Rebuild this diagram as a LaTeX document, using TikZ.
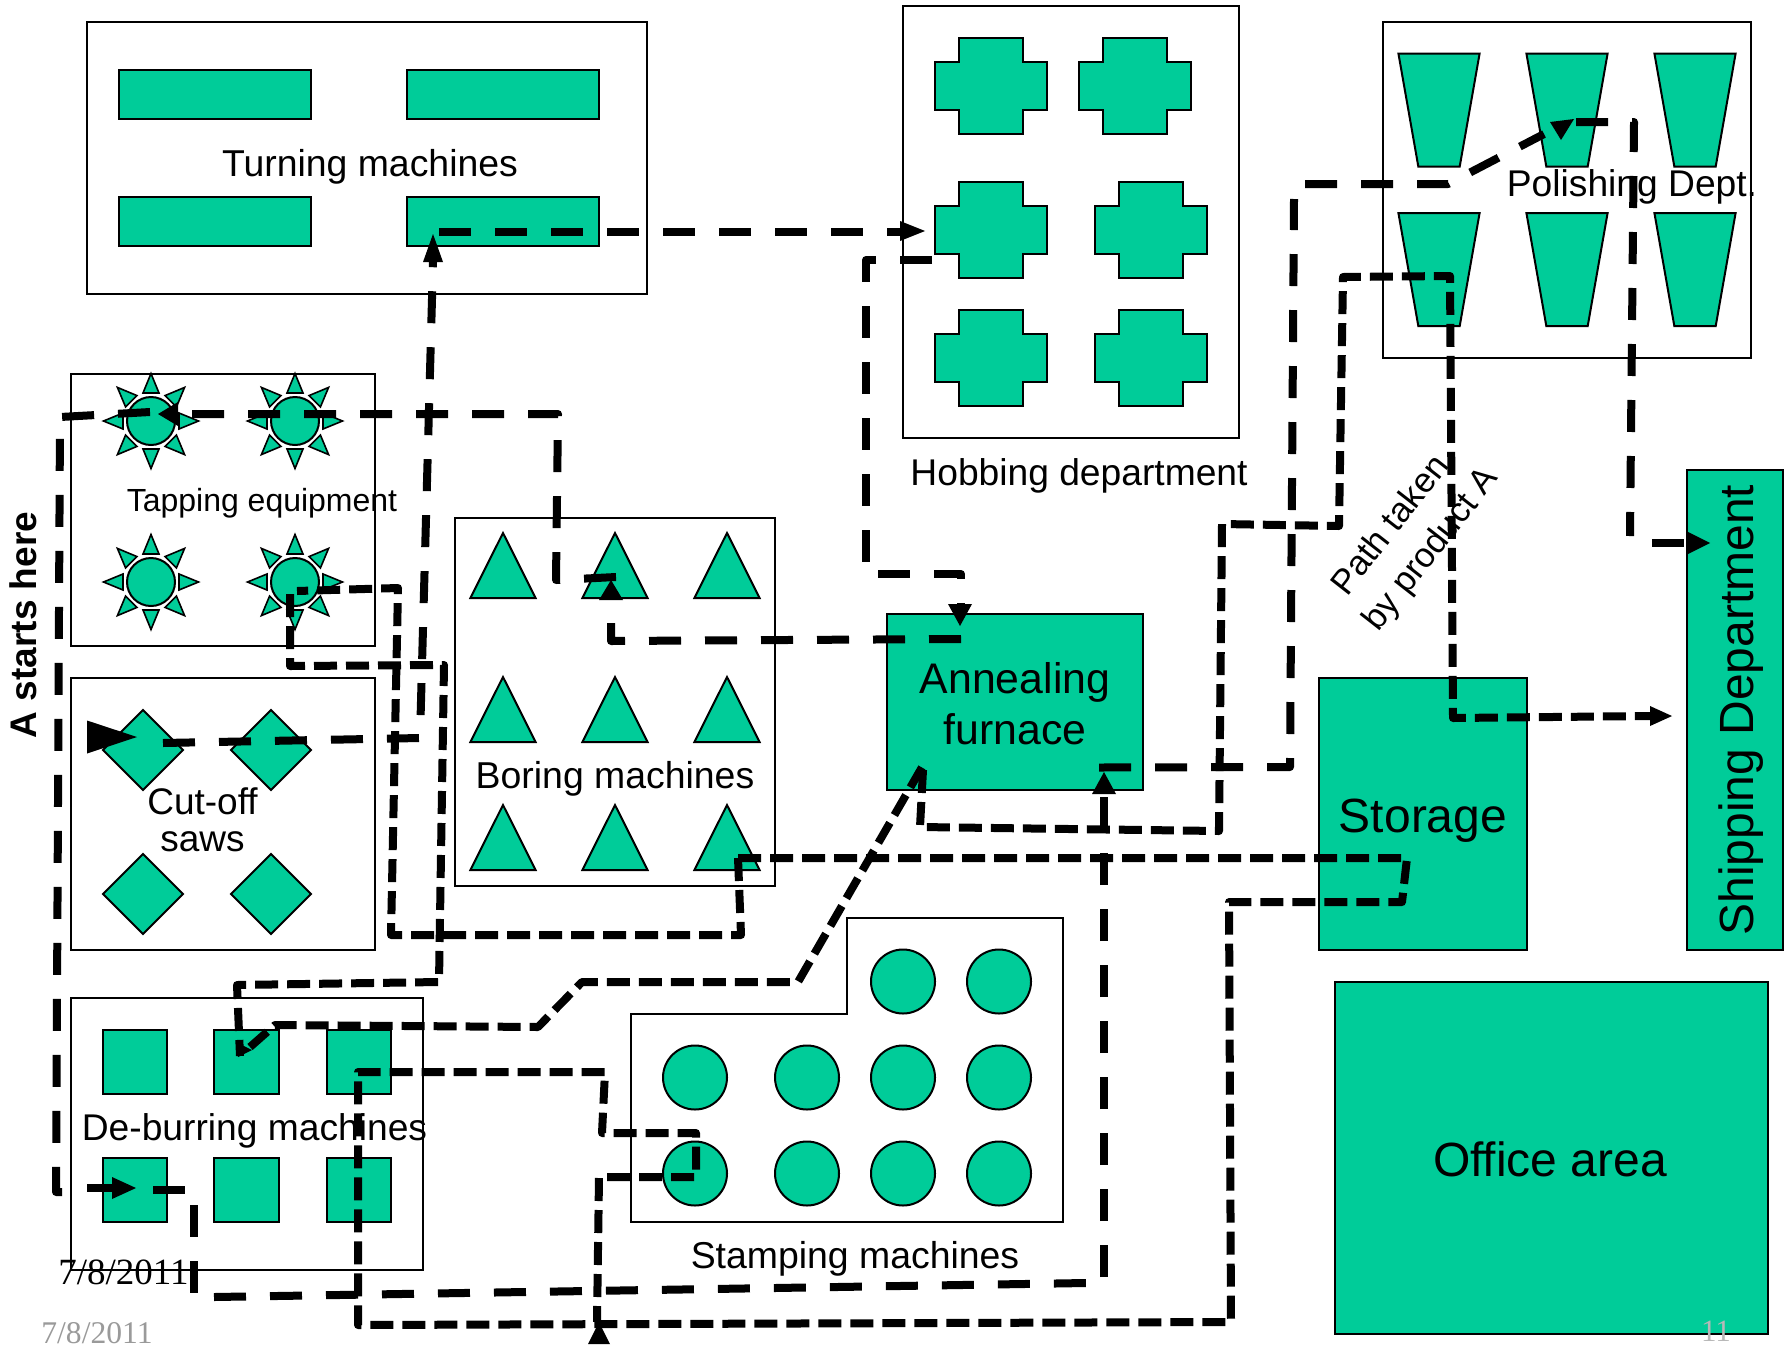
\documentclass[tikz,border=0pt]{standalone}
\usepackage{fontspec}
\setmainfont{Liberation Sans}
\newfontfamily\timesfont{Liberation Serif}
\definecolor{mach}{HTML}{00CC99}
\definecolor{datecol}{HTML}{9A9A9A}
\newcommand{\fpx}[1]{\fontsize{#1}{#1}\selectfont}
\tikzset{
  box/.style={draw=black,line width=1pt,fill=white},
  mach/.style={draw=black,line width=1pt,fill=mach},
  longd/.style={draw=black,line width=4pt,dash pattern=on 16pt off 12pt,line join=round},
  shortd/.style={draw=black,line width=4pt,dash pattern=on 11.5pt off 4.5pt,line join=round},
  head/.style={fill=black,draw=none},
  lab/.style={inner sep=0pt,align=center,text=black},
  sunpic/.pic={
    \draw[mach] (0,0) circle[radius=24];
    \foreach \a in {0,45,...,315}{
      \draw[mach,rotate=\a,line width=.8pt] (47.5,0)--(28,8)--(28,-8)--cycle;
    }
  },
  pluspic/.pic={
    \draw[mach] (-56,-24)--(-32,-24)--(-32,-48)--(32,-48)--(32,-24)--(56,-24)--(56,24)--(32,24)--(32,48)--(-32,48)--(-32,24)--(-56,24)--cycle;
  },
  trappic/.pic={
    \draw[mach] (-40.6,-56.5)--(40.6,-56.5)--(20.7,56.5)--(-20.7,56.5)--cycle;
  },
  tripic/.pic={
    \draw[mach] (0,-32.5)--(32.6,32.5)--(-32.6,32.5)--cycle;
  },
  diapic/.pic={
    \draw[mach] (0,-40)--(40,0)--(0,40)--(-40,0)--cycle;
  },
}
\begin{document}
\begin{tikzpicture}[x=0.5pt,y=-0.5pt]
\useasboundingbox (0,0) rectangle (1787,1344);
\clip (0,0) rectangle (1787,1344);
\fill[white] (0,0) rectangle (1787,1344);

% Turning
\draw[box] (87,22) rectangle (647,294);
\foreach \x/\y in {119/70,407/70,119/197,407/197}
  \draw[mach] (\x,\y) rectangle ++(192,49);
\node[lab,font=\fpx{18.7pt}] (turn) at (370,166.5) {Turning machines};

% Hobbing
\draw[box] (903,6) rectangle (1239,438);
\foreach \x/\y in {991/86,1135/86,991/230,1151/230,991/358,1151/358}
  \pic at (\x,\y) {pluspic};
\node[lab,font=\fpx{18.6pt}] (hob) at (1079,475.5) {Hobbing department};

% Polishing
\draw[box] (1383,21.5) rectangle (1751,358);
\foreach \x in {1439,1567,1695}{
  \pic at (\x,110) {trappic};
  \pic at (\x,269.5) {trappic};
}
\node[lab,font=\fpx{18.6pt}] (pol) at (1632,186.5) {Polishing Dept.};

% Tapping
\draw[box] (71,374) rectangle (375,646);
\foreach \x/\y in {151/421,295/421,151/582,295/582}
  \pic at (\x,\y) {sunpic};
\node[lab,font=\fpx{16pt}] (tap) at (262,503) {Tapping equipment};

% Cut-off
\draw[box] (71,678) rectangle (375,950);
\foreach \x/\y in {143/750,271/750,143/894,271/894}
  \pic at (\x,\y) {diapic};
\node[lab,font=\fpx{18.5pt}] (cut1) at (202.5,801) {Cut-off};
\node[lab,font=\fpx{18.5pt}] (cut2) at (202.5,842) {saws};

% Boring
\draw[box] (455,518) rectangle (775,886);
\foreach \x in {503,615,727}
  \foreach \y in {565.5,709.5,837.5}
    \pic at (\x,\y) {tripic};
\node[lab,font=\fpx{18.7pt}] (bor) at (615,779) {Boring machines};

% De-burring
\draw[box] (71,998) rectangle (423,1270);
\foreach \x in {102.5,214,326.5}
  \foreach \y in {1030,1158}
    \draw[mach] (\x,\y) rectangle ++(64.5,64);
\node[lab,font=\fpx{18.6pt}] (deb) at (254.5,1130.5) {De-burring machines};

% Stamping
\draw[box] (631,1014)--(847,1014)--(847,918)--(1063,918)--(1063,1222)--(631,1222)--cycle;
\foreach \x/\y in {903/981.5,999/981.5,695/1077.5,807/1077.5,903/1077.5,999/1077.5,695/1173.5,807/1173.5,903/1173.5,999/1173.5}
  \draw[mach] (\x,\y) circle[radius=32];
\node[lab,font=\fpx{18.7pt}] (sta) at (855,1258.5) {Stamping machines};

% Solid departments
\draw[mach] (887,614) rectangle (1143,790);
\node[lab,font=\fpx{21.4pt}] (ann1) at (1015,682.5) {Annealing};
\node[lab,font=\fpx{21.4pt}] (ann2) at (1015,729) {furnace};
\draw[mach] (1319,678) rectangle (1527,950);
\node[lab,font=\fpx{24pt}] (stor) at (1423,820.5) {Storage};
\draw[mach] (1335,981.5) rectangle (1768,1334);
\node[lab,font=\fpx{24pt}] (off) at (1550,1159) {Office area};
\draw[mach] (1687,470) rectangle (1783,950);
\node[lab,font=\fpx{24pt},rotate=90] (ship) at (1741,710) {Shipping Department};

\node[lab,font=\fpx{18.5pt}\bfseries,rotate=90] (astart) at (23,625) {A starts here};
\node[lab,font=\fpx{17.4pt},rotate=52] (path1) at (1389,524) {Path taken};
\node[lab,font=\fpx{17.4pt},rotate=52] (path2) at (1432,550) {by product A};

\node[lab,font=\timesfont\fpx{18.5pt}] (d1) at (123.5,1272) {7/8/2011};
\node[lab,font=\timesfont\fpx{15.8pt},text=datecol] (d2) at (97,1333) {7/8/2011};
\node[lab,font=\timesfont\fpx{15.5pt},text=datecol!70] (pg) at (1716,1331) {11};

% long-dash legs
\draw[longd] (87,1188)--(112,1188);
\draw[head] (112,1177)--(136,1188)--(112,1199)--cycle;
\draw[longd] (153,1190)--(195,1190);
\draw[longd] (194,1205)--(194,1293);
\draw[longd] (214,1297)--(1086,1283);
\draw[longd] (1104,1277)--(1104,794);
\draw[head] (1092,794)--(1104,772)--(1116,794)--cycle;
\draw[longd] (1099,767.5)--(1290,767)--(1294,199);
\draw[longd] (1305,184)--(1448,184)--(1544,134);
\draw[head] (1550,122)--(1574,119)--(1561,140)--cycle;
\draw[longd] (1576,122)--(1634,122)--(1630,536);
\draw[longd] (1652,543)--(1687,543);
\draw[head] (1687,531.5)--(1710,543)--(1687,554.5)--cycle;

\draw[longd] (163,743)--(420,738)--(433,262);
\draw[head] (87,720.5)--(137,737)--(87,753.5)--cycle;
\draw[head] (423,262)--(433,234)--(443,262)--cycle;
\draw[longd] (439,232)--(900,232);
\draw[head] (900,221)--(925,231)--(900,241)--cycle;
\draw[longd] (932,260)--(866,260)--(866,574)--(961,574)--(961,604);
\draw[head] (948,604)--(960,626)--(972,604)--cycle;
\draw[longd] (961,639)--(611,641)--(611,600);
\draw[head] (599,600)--(611,580)--(623,600)--cycle;
\draw[longd] (616,577)--(556,580)--(558,414)--(172,414);
\draw[head] (178,402)--(158,414)--(178,426)--cycle;
\draw[longd] (150,412)--(60,417)--(56,1192)--(62,1192);

% short-dash legs
\draw[shortd] (738,858)--(1407,858)--(1402,902)--(1229,902)--(1231,1322)--(358,1325)--(358,1072)--(605,1072)--(602,1133)--(696,1133)--(696,1170);
\draw[shortd] (694,1177)--(599,1177)--(597,1322);
\draw[head] (588,1344)--(599,1322)--(610,1344)--cycle;
\draw[shortd] (738,858)--(741,935)--(391,935)--(398,588)--(297,591);
\draw[shortd] (290,594)--(290,666)--(444,665)--(439,982)--(237,985)--(240,1056);
\draw[head] (236,1042)--(238,1057)--(252,1050)--cycle;
\draw[shortd] (250,1047)--(275,1025)--(538,1027)--(582,982)--(798,982)--(925,762);
\draw[shortd] (923,770)--(920,827)--(1219,831)--(1222,524)--(1339,526)--(1343,277)--(1450,276)--(1453,718)--(1650,716);
\draw[head] (1650,706)--(1672,716)--(1650,726)--cycle;
\end{tikzpicture}
\end{document}
